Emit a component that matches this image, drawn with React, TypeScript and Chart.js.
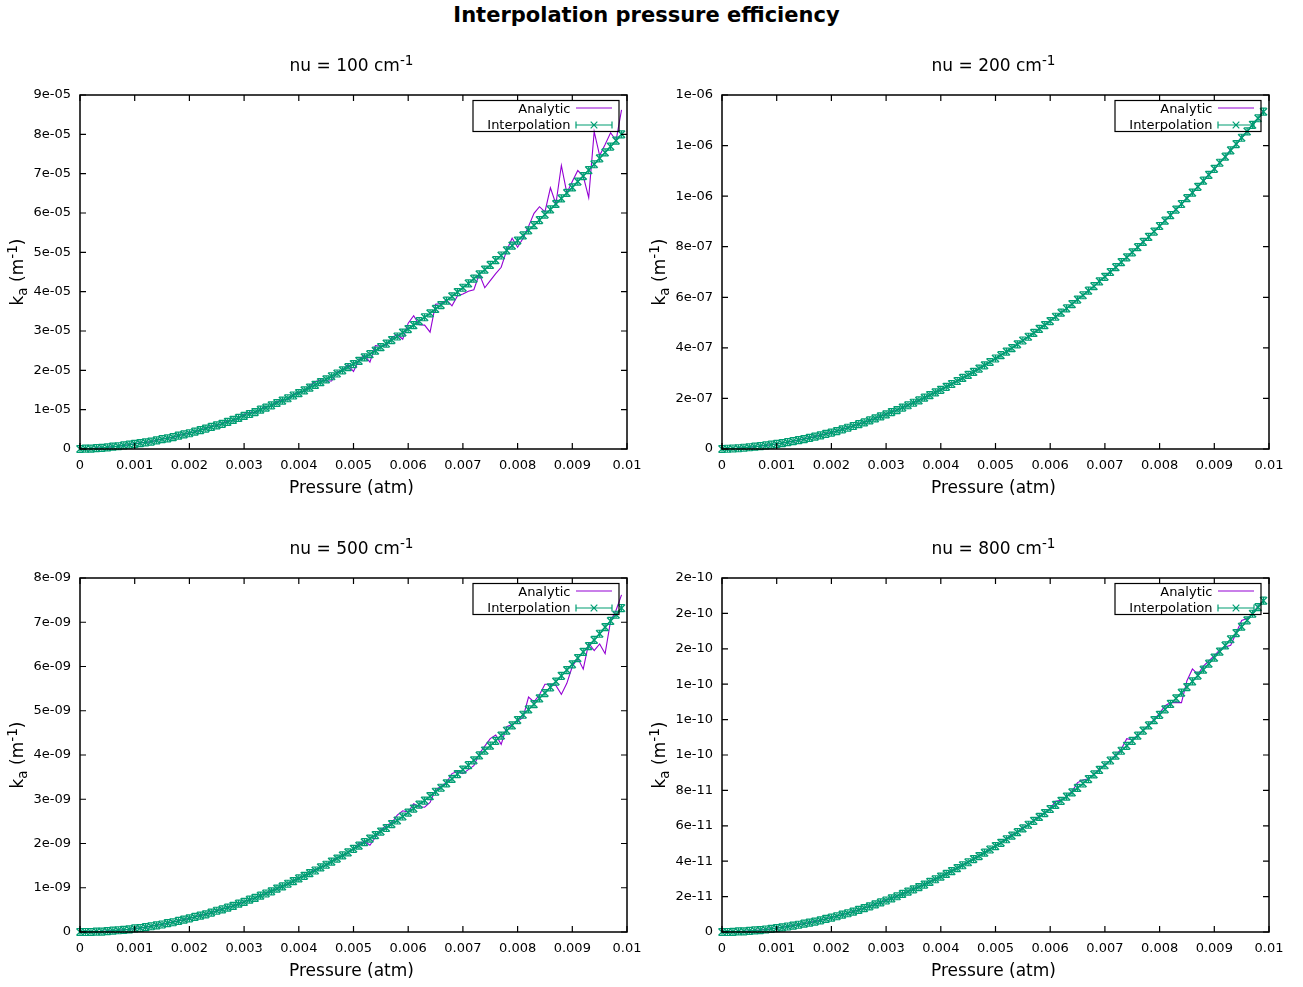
import React, { useEffect, useRef } from 'react';
import { Chart, registerables } from 'chart.js';

Chart.register(...registerables);

// ---------------- data ----------------
const pressure = [
  0, 0.0001, 0.0002, 0.0003, 0.0004, 0.0005, 0.0006, 0.0007, 0.0008, 0.0009,
  0.001, 0.0011, 0.0012, 0.0013, 0.0014, 0.0015, 0.0016, 0.0017, 0.0018, 0.0019,
  0.002, 0.0021, 0.0022, 0.0023, 0.0024, 0.0025, 0.0026, 0.0027, 0.0028, 0.0029,
  0.003, 0.0031, 0.0032, 0.0033, 0.0034, 0.0035, 0.0036, 0.0037, 0.0038, 0.0039,
  0.004, 0.0041, 0.0042, 0.0043, 0.0044, 0.0045, 0.0046, 0.0047, 0.0048, 0.0049,
  0.005, 0.0051, 0.0052, 0.0053, 0.0054, 0.0055, 0.0056, 0.0057, 0.0058, 0.0059,
  0.006, 0.0061, 0.0062, 0.0063, 0.0064, 0.0065, 0.0066, 0.0067, 0.0068, 0.0069,
  0.007, 0.0071, 0.0072, 0.0073, 0.0074, 0.0075, 0.0076, 0.0077, 0.0078, 0.0079,
  0.008, 0.0081, 0.0082, 0.0083, 0.0084, 0.0085, 0.0086, 0.0087, 0.0088, 0.0089,
  0.009, 0.0091, 0.0092, 0.0093, 0.0094, 0.0095, 0.0096, 0.0097, 0.0098, 0.0099,
];

const xTickValues = [0, 0.001, 0.002, 0.003, 0.004, 0.005, 0.006, 0.007, 0.008, 0.009, 0.01];
const xTickLabels = ['0', '0.001', '0.002', '0.003', '0.004', '0.005', '0.006', '0.007', '0.008', '0.009', '0.01'];

// nu = 100 cm-1 (values in units of 1e-05 m-1)
const nu100Analytic = [
  0, 0.01, 0.01, 0.02, 0.03, 0.04, 0.06, 0.07, 0.09, 0.11,
  0.13, 0.16, 0.17, 0.18, 0.23, 0.25, 0.28, 0.29, 0.35, 0.37,
  0.42, 0.43, 0.49, 0.52, 0.58, 0.59, 0.65, 0.72, 0.72, 0.80,
  0.88, 0.94, 0.92, 1.02, 1.08, 1.08, 1.21, 1.24, 1.26, 1.39,
  1.44, 1.47, 1.61, 1.71, 1.76, 1.73, 1.73, 1.96, 2.01, 2.14,
  1.97, 2.27, 2.38, 2.21, 2.63, 2.61, 2.63, 2.83, 2.91, 2.79,
  3.20, 3.39, 3.16, 3.15, 2.97, 3.68, 3.70, 3.79, 3.64, 3.89,
  3.94, 4.01, 4.05, 4.45, 4.10, 4.28, 4.46, 4.62, 5.05, 5.36,
  5.13, 5.36, 5.66, 5.99, 6.16, 6.03, 6.64, 6.23, 7.21, 6.51,
  6.80, 7.08, 6.94, 6.39, 8.07, 7.46, 7.74, 8.04, 7.84, 8.62,
];
const nu100Interp = [
  0, 0.01, 0.01, 0.02, 0.03, 0.04, 0.06, 0.07, 0.09, 0.11,
  0.13, 0.15, 0.17, 0.19, 0.22, 0.25, 0.27, 0.30, 0.34, 0.37,
  0.40, 0.44, 0.48, 0.52, 0.56, 0.60, 0.64, 0.69, 0.74, 0.79,
  0.84, 0.89, 0.94, 1.00, 1.05, 1.11, 1.17, 1.23, 1.29, 1.36,
  1.42, 1.49, 1.56, 1.63, 1.70, 1.77, 1.85, 1.92, 2.00, 2.08,
  2.16, 2.24, 2.33, 2.41, 2.50, 2.59, 2.68, 2.77, 2.86, 2.96,
  3.05, 3.15, 3.25, 3.35, 3.45, 3.56, 3.66, 3.77, 3.88, 3.99,
  4.10, 4.21, 4.33, 4.44, 4.56, 4.68, 4.80, 4.92, 5.05, 5.17,
  5.30, 5.43, 5.56, 5.69, 5.82, 5.96, 6.09, 6.23, 6.37, 6.51,
  6.65, 6.80, 6.94, 7.09, 7.24, 7.39, 7.54, 7.69, 7.84, 8.00,
];
const nu100YTicks = [0, 1, 2, 3, 4, 5, 6, 7, 8, 9];
const nu100YLabels = ['0', '1e-05', '2e-05', '3e-05', '4e-05', '5e-05', '6e-05', '7e-05', '8e-05', '9e-05'];

// nu = 200 cm-1 (values in units of 1e-07 m-1)
const nu200Analytic = [
  0, 0.01, 0.02, 0.03, 0.05, 0.07, 0.09, 0.12, 0.14, 0.17,
  0.20, 0.24, 0.27, 0.31, 0.35, 0.40, 0.44, 0.49, 0.55, 0.60,
  0.66, 0.71, 0.77, 0.85, 0.91, 0.98, 1.06, 1.13, 1.21, 1.30,
  1.37, 1.47, 1.54, 1.63, 1.74, 1.83, 1.93, 2.02, 2.14, 2.24,
  2.35, 2.45, 2.58, 2.69, 2.80, 2.94, 3.05, 3.19, 3.30, 3.45,
  3.57, 3.73, 3.84, 4.00, 4.15, 4.28, 4.46, 4.58, 4.76, 4.89,
  5.08, 5.22, 5.41, 5.55, 5.74, 5.93, 6.07, 6.28, 6.43, 6.65,
  6.80, 7.03, 7.18, 7.41, 7.57, 7.80, 7.97, 8.22, 8.38, 8.62,
  8.80, 9.06, 9.23, 9.50, 9.67, 9.95, 10.12, 10.40, 10.58, 10.88,
  11.05, 11.35, 11.53, 11.85, 12.03, 12.35, 12.53, 12.86, 13.05, 13.40,
];
const nu200Interp = [
  0, 0.01, 0.02, 0.03, 0.05, 0.07, 0.09, 0.11, 0.14, 0.17,
  0.20, 0.23, 0.27, 0.31, 0.35, 0.39, 0.44, 0.49, 0.54, 0.60,
  0.65, 0.71, 0.78, 0.84, 0.91, 0.98, 1.05, 1.13, 1.21, 1.29,
  1.37, 1.46, 1.54, 1.64, 1.73, 1.83, 1.92, 2.03, 2.13, 2.24,
  2.34, 2.46, 2.57, 2.69, 2.81, 2.93, 3.05, 3.18, 3.31, 3.44,
  3.58, 3.71, 3.85, 3.99, 4.14, 4.29, 4.44, 4.59, 4.75, 4.90,
  5.06, 5.23, 5.39, 5.56, 5.73, 5.91, 6.08, 6.26, 6.44, 6.63,
  6.81, 7.00, 7.19, 7.39, 7.58, 7.78, 7.98, 8.19, 8.39, 8.60,
  8.82, 9.03, 9.25, 9.47, 9.69, 9.92, 10.14, 10.37, 10.61, 10.84,
  11.08, 11.32, 11.56, 11.81, 12.06, 12.31, 12.56, 12.82, 13.08, 13.34,
];
const nu200YTicks = [0, 2, 4, 6, 8, 10, 12, 14];
const nu200YLabels = ['0', '2e-07', '4e-07', '6e-07', '8e-07', '1e-06', '1e-06', '1e-06'];

// nu = 500 cm-1 (values in units of 1e-09 m-1)
const nu500Analytic = [
  0, 0, 0, 0.01, 0.01, 0.02, 0.03, 0.04, 0.05, 0.06,
  0.08, 0.09, 0.11, 0.13, 0.16, 0.17, 0.20, 0.23, 0.25, 0.28,
  0.31, 0.34, 0.38, 0.40, 0.44, 0.48, 0.52, 0.55, 0.59, 0.63,
  0.69, 0.73, 0.77, 0.83, 0.87, 0.93, 0.98, 1.04, 1.08, 1.15,
  1.22, 1.27, 1.32, 1.41, 1.46, 1.51, 1.60, 1.68, 1.72, 1.79,
  1.88, 2.00, 2.05, 1.96, 2.14, 2.30, 2.41, 2.47, 2.64, 2.74,
  2.71, 2.90, 2.83, 2.82, 2.93, 3.22, 3.29, 3.38, 3.58, 3.63,
  3.58, 3.67, 3.76, 4.03, 4.20, 4.37, 4.45, 4.24, 4.64, 4.69,
  4.76, 4.85, 5.31, 5.20, 5.36, 5.60, 5.60, 5.57, 5.37, 5.62,
  6.00, 6.19, 5.94, 6.53, 6.36, 6.51, 6.29, 7.03, 7.27, 7.62,
];
const nu500Interp = [
  0, 0, 0, 0.01, 0.01, 0.02, 0.03, 0.04, 0.05, 0.06,
  0.08, 0.09, 0.11, 0.13, 0.15, 0.17, 0.20, 0.22, 0.25, 0.28,
  0.31, 0.34, 0.37, 0.40, 0.44, 0.48, 0.51, 0.55, 0.59, 0.64,
  0.68, 0.73, 0.77, 0.82, 0.87, 0.92, 0.98, 1.03, 1.09, 1.15,
  1.21, 1.27, 1.33, 1.39, 1.46, 1.52, 1.59, 1.66, 1.73, 1.80,
  1.88, 1.95, 2.03, 2.11, 2.19, 2.27, 2.35, 2.44, 2.52, 2.61,
  2.70, 2.79, 2.88, 2.97, 3.07, 3.17, 3.26, 3.36, 3.46, 3.57,
  3.67, 3.77, 3.88, 3.99, 4.10, 4.21, 4.32, 4.44, 4.55, 4.67,
  4.79, 4.91, 5.03, 5.15, 5.28, 5.40, 5.53, 5.66, 5.79, 5.92,
  6.05, 6.19, 6.33, 6.46, 6.60, 6.74, 6.89, 7.03, 7.17, 7.32,
];
const nu500YTicks = [0, 1, 2, 3, 4, 5, 6, 7, 8];
const nu500YLabels = ['0', '1e-09', '2e-09', '3e-09', '4e-09', '5e-09', '6e-09', '7e-09', '8e-09'];

// nu = 800 cm-1 (values in units of 1e-11 m-1)
const nu800Analytic = [
  0, 0, 0.01, 0.03, 0.04, 0.06, 0.09, 0.11, 0.14, 0.18,
  0.22, 0.27, 0.31, 0.36, 0.42, 0.47, 0.53, 0.60, 0.66, 0.74,
  0.82, 0.89, 0.99, 1.06, 1.16, 1.25, 1.36, 1.45, 1.57, 1.67,
  1.80, 1.90, 2.03, 2.14, 2.30, 2.41, 2.57, 2.68, 2.85, 3.00,
  3.13, 3.30, 3.48, 3.60, 3.80, 3.96, 4.12, 4.33, 4.49, 4.69,
  4.88, 5.04, 5.28, 5.49, 5.64, 5.90, 6.07, 6.30, 6.55, 6.72,
  6.98, 7.38, 7.44, 7.67, 7.95, 8.44, 8.59, 8.66, 8.92, 9.22,
  9.45, 9.70, 10.00, 10.34, 10.92, 10.85, 11.12, 11.40, 11.70, 12.00,
  12.37, 12.78, 12.96, 12.96, 12.96, 14.20, 14.86, 14.55, 15.02, 15.31,
  15.62, 15.94, 16.10, 16.20, 16.89, 17.60, 17.71, 18.00, 18.40, 18.74,
];
const nu800Interp = [
  0, 0, 0.01, 0.03, 0.04, 0.06, 0.09, 0.11, 0.14, 0.18,
  0.22, 0.26, 0.31, 0.36, 0.41, 0.47, 0.53, 0.59, 0.66, 0.74,
  0.81, 0.89, 0.98, 1.06, 1.15, 1.25, 1.35, 1.45, 1.56, 1.67,
  1.78, 1.90, 2.02, 2.15, 2.28, 2.41, 2.54, 2.68, 2.83, 2.98,
  3.13, 3.28, 3.44, 3.61, 3.77, 3.94, 4.12, 4.29, 4.48, 4.66,
  4.85, 5.04, 5.24, 5.44, 5.64, 5.85, 6.06, 6.28, 6.50, 6.72,
  6.95, 7.18, 7.41, 7.65, 7.89, 8.14, 8.39, 8.64, 8.90, 9.16,
  9.42, 9.69, 9.96, 10.24, 10.52, 10.80, 11.09, 11.38, 11.67, 11.97,
  12.27, 12.58, 12.89, 13.20, 13.52, 13.84, 14.16, 14.49, 14.82, 15.16,
  15.50, 15.84, 16.19, 16.54, 16.89, 17.25, 17.61, 17.98, 18.35, 18.72,
];
const nu800YTicks = [0, 2, 4, 6, 8, 10, 12, 14, 16, 18, 20];
const nu800YLabels = ['0', '2e-11', '4e-11', '6e-11', '8e-11', '1e-10', '1e-10', '1e-10', '2e-10', '2e-10', '2e-10'];

const mainTitle = 'Interpolation pressure efficiency';
const xAxisTitle = 'Pressure (atm)';
const seriesNames = ['Analytic', 'Interpolation'];

const panels = [
  { nu: '100', analytic: nu100Analytic, interp: nu100Interp, yTicks: nu100YTicks, yLabels: nu100YLabels },
  { nu: '200', analytic: nu200Analytic, interp: nu200Interp, yTicks: nu200YTicks, yLabels: nu200YLabels },
  { nu: '500', analytic: nu500Analytic, interp: nu500Interp, yTicks: nu500YTicks, yLabels: nu500YLabels },
  { nu: '800', analytic: nu800Analytic, interp: nu800Interp, yTicks: nu800YTicks, yLabels: nu800YLabels },
];

// ---------------- style ----------------
const FONT = '"DejaVu Sans", sans-serif';
const PURPLE = '#9400d3';
const GREEN = '#009e73';
const CANVAS_W = 642;
const CANVAS_H = 483;
const TICK_FS = 13;
const LABEL_FS = 17;

type Seg = { t: string; k: number; dy: number };

function drawRich(ctx: CanvasRenderingContext2D, segs: Seg[], x: number, y: number, fs: number) {
  const fonts = segs.map((s) => `${fs * s.k}px ${FONT}`);
  let total = 0;
  const widths = segs.map((s, i) => {
    ctx.font = fonts[i];
    const w = ctx.measureText(s.t).width;
    total += w;
    return w;
  });
  let cx = x - total / 2;
  ctx.textAlign = 'left';
  ctx.textBaseline = 'alphabetic';
  segs.forEach((s, i) => {
    ctx.font = fonts[i];
    ctx.fillText(s.t, cx, y + s.dy * fs);
    cx += widths[i];
  });
}

const gnuplotDecor = {
  id: 'gnuplotDecor',
  afterDatasetsDraw(chart: any) {
    const ctx: CanvasRenderingContext2D = chart.ctx;
    const meta = chart.getDatasetMeta(1);
    ctx.save();
    ctx.strokeStyle = GREEN;
    ctx.lineWidth = 1.2;
    ctx.beginPath();
    for (const el of meta.data) {
      const x = el.x;
      const y = el.y;
      ctx.moveTo(x, y - 3.5);
      ctx.lineTo(x, y + 3.5);
      ctx.moveTo(x - 3, y - 3.5);
      ctx.lineTo(x + 3, y - 3.5);
      ctx.moveTo(x - 3, y + 3.5);
      ctx.lineTo(x + 3, y + 3.5);
    }
    ctx.stroke();
    ctx.restore();
  },
  afterDraw(chart: any, _args: any, opts: any) {
    const ctx: CanvasRenderingContext2D = chart.ctx;
    const ca = chart.chartArea;
    const xs = chart.scales.x;
    const ys = chart.scales.y;
    ctx.save();
    // frame
    ctx.strokeStyle = '#000';
    ctx.lineWidth = 1.5;
    ctx.strokeRect(ca.left, ca.top, ca.right - ca.left, ca.bottom - ca.top);
    // inward ticks (mirrored)
    ctx.lineWidth = 1.2;
    ctx.beginPath();
    for (const t of xs.ticks) {
      const px = xs.getPixelForValue(t.value);
      ctx.moveTo(px, ca.bottom);
      ctx.lineTo(px, ca.bottom - 6);
      ctx.moveTo(px, ca.top);
      ctx.lineTo(px, ca.top + 6);
    }
    for (const t of ys.ticks) {
      const py = ys.getPixelForValue(t.value);
      ctx.moveTo(ca.left, py);
      ctx.lineTo(ca.left + 6, py);
      ctx.moveTo(ca.right, py);
      ctx.lineTo(ca.right - 6, py);
    }
    ctx.stroke();

    ctx.fillStyle = '#000';
    const cxm = (ca.left + ca.right) / 2 - 2;
    // panel title
    drawRich(ctx, [
      { t: `nu = ${opts.nu} cm`, k: 1, dy: 0 },
      { t: '-1', k: 0.8, dy: -0.38 },
    ], cxm, 36, LABEL_FS);
    // x axis title
    drawRich(ctx, [{ t: xAxisTitle, k: 1, dy: 0 }], cxm, 458, LABEL_FS);
    // y axis title (rotated)
    ctx.save();
    ctx.translate(23, (ca.top + ca.bottom) / 2);
    ctx.rotate(-Math.PI / 2);
    drawRich(ctx, [
      { t: 'k', k: 1, dy: 0 },
      { t: 'a', k: 0.8, dy: 0.22 },
      { t: ' (m', k: 1, dy: 0 },
      { t: '-1', k: 0.8, dy: -0.38 },
      { t: ')', k: 1, dy: 0 },
    ], 0, 0, LABEL_FS);
    ctx.restore();

    // legend (gnuplot key)
    const bl = ca.right - 154;
    const bt = ca.top + 5.5;
    ctx.lineWidth = 1.2;
    ctx.strokeStyle = '#000';
    ctx.strokeRect(bl, bt, 146, 31);
    ctx.font = `${TICK_FS}px ${FONT}`;
    ctx.textAlign = 'right';
    ctx.textBaseline = 'middle';
    const tx = ca.right - 56.5;
    const r1 = bt + 8.5;
    const r2 = bt + 24.5;
    ctx.fillText(seriesNames[0], tx, r1 + 0.5);
    ctx.fillText(seriesNames[1], tx, r2 + 0.5);
    const l0 = ca.right - 51;
    const l1 = ca.right - 15;
    ctx.lineWidth = 1.2;
    ctx.strokeStyle = PURPLE;
    ctx.beginPath();
    ctx.moveTo(l0, r1 - 1);
    ctx.lineTo(l1, r1 - 1);
    ctx.stroke();
    ctx.strokeStyle = GREEN;
    ctx.beginPath();
    ctx.moveTo(l0, r2);
    ctx.lineTo(l1, r2);
    ctx.moveTo(l0, r2 - 3.5);
    ctx.lineTo(l0, r2 + 3.5);
    ctx.moveTo(l1, r2 - 3.5);
    ctx.lineTo(l1, r2 + 3.5);
    const mx = (l0 + l1) / 2;
    ctx.moveTo(mx - 3.3, r2 - 3.3);
    ctx.lineTo(mx + 3.3, r2 + 3.3);
    ctx.moveTo(mx - 3.3, r2 + 3.3);
    ctx.lineTo(mx + 3.3, r2 - 3.3);
    ctx.stroke();
    ctx.restore();
  },
};

function Panel({ panel, left, top }: { panel: typeof panels[number]; left: number; top: number }) {
  const ref = useRef<HTMLCanvasElement | null>(null);
  useEffect(() => {
    if (!ref.current) return;
    const yMax = panel.yTicks[panel.yTicks.length - 1];
    const chart = new Chart(ref.current, {
      type: 'line',
      data: {
        datasets: [
          {
            label: seriesNames[0],
            data: pressure.map((p, i) => ({ x: p, y: panel.analytic[i] })),
            borderColor: PURPLE,
            borderWidth: 1.1,
            pointRadius: 0,
            tension: 0,
            fill: false,
            order: 2,
          },
          {
            label: seriesNames[1],
            data: pressure.map((p, i) => ({ x: p, y: panel.interp[i] })),
            borderColor: GREEN,
            borderWidth: 1.3,
            pointStyle: 'crossRot',
            pointRadius: 5,
            pointBorderWidth: 1.4,
            pointBorderColor: GREEN,
            pointBackgroundColor: GREEN,
            tension: 0,
            fill: false,
            order: 1,
            clip: false as any,
          },
        ],
      },
      options: {
        animation: false,
        responsive: false,
        devicePixelRatio: 1,
        events: [],
        layout: { padding: { left: 0, top: 60, right: 15, bottom: 0 } },
        plugins: {
          legend: { display: false },
          tooltip: { enabled: false },
          title: { display: false },
          gnuplotDecor: { nu: panel.nu },
        } as any,
        scales: {
          x: {
            type: 'linear',
            min: 0,
            max: 0.01,
            grid: { display: false, drawTicks: false },
            border: { display: false },
            ticks: {
              padding: 9,
              color: '#000',
              font: { family: FONT, size: TICK_FS },
              autoSkip: false,
              maxRotation: 0,
              callback: (_v: any, i: number) => xTickLabels[i],
            },
            afterBuildTicks: (s: any) => {
              s.ticks = xTickValues.map((v) => ({ value: v }));
            },
            afterFit: (s: any) => {
              s.height = CANVAS_H - 414;
              s.paddingLeft = 0;
              s.paddingRight = 0;
            },
          },
          y: {
            type: 'linear',
            min: 0,
            max: yMax,
            grid: { display: false, drawTicks: false },
            border: { display: false },
            ticks: {
              padding: 9,
              color: '#000',
              font: { family: FONT, size: TICK_FS },
              autoSkip: false,
              callback: (_v: any, i: number) => panel.yLabels[i],
            },
            afterBuildTicks: (s: any) => {
              s.ticks = panel.yTicks.map((v) => ({ value: v }));
            },
            afterFit: (s: any) => {
              s.width = 80;
              s.paddingTop = 0;
              s.paddingBottom = 0;
            },
          },
        },
      } as any,
      plugins: [gnuplotDecor],
    });
    return () => chart.destroy();
  }, [panel]);
  return (
    <canvas
      ref={ref}
      width={CANVAS_W}
      height={CANVAS_H}
      style={{ position: 'absolute', left, top, width: CANVAS_W, height: CANVAS_H }}
    />
  );
}

export default function App() {
  return (
    <div style={{ position: 'absolute', left: 0, top: 0, width: 1303, height: 987, background: '#fff', overflow: 'hidden' }}>
      <div
        style={{
          position: 'absolute',
          left: 0,
          top: 5,
          width: 1293,
          textAlign: 'center',
          fontFamily: FONT,
          fontWeight: 'bold',
          fontSize: 21,
          lineHeight: '21px',
          color: '#000',
        }}
      >
        {mainTitle}
      </div>
      {panels.map((p, i) => (
        <Panel key={p.nu} panel={p} left={(i % 2) * 642} top={35 + Math.floor(i / 2) * 483} />
      ))}
    </div>
  );
}
